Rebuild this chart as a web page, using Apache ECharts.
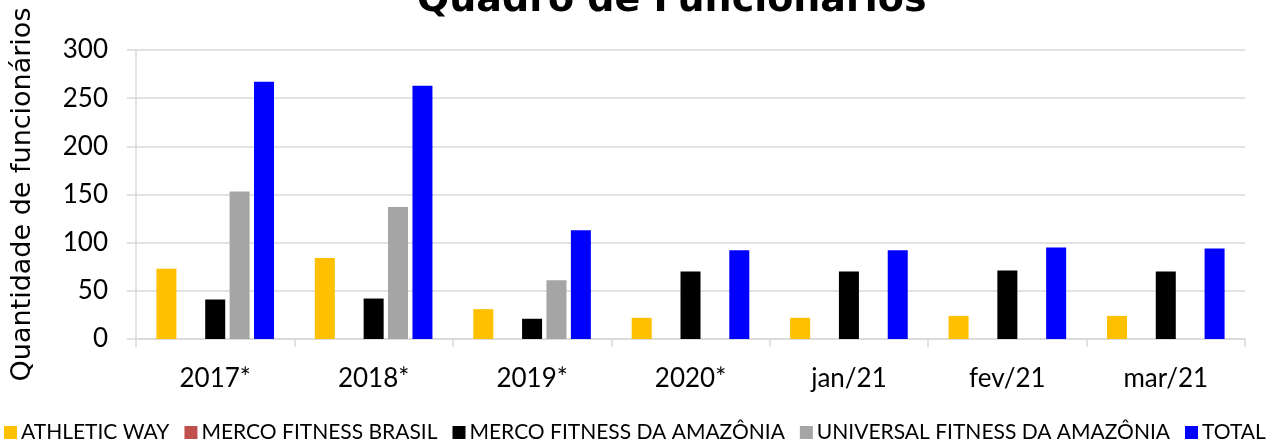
<!DOCTYPE html>
<html>
<head>
<meta charset="utf-8">
<script src="https://cdn.jsdelivr.net/npm/echarts@6/dist/echarts.min.js"></script>
<style>
  html, body { margin: 0; padding: 0; background: #fff; }
  #main { width: 1282px; height: 444px; }
</style>
</head>
<body>
<div id="main"></div>
<script>
const categories = ["2017*", "2018*", "2019*", "2020*", "jan/21", "fev/21", "mar/21"]
const athleticWay = [73, 84, 31, 22, 22, 24, 24]
const mercoBrasil = [0, 0, 0, 0, 0, 0, 0]
const mercoAmazonia = [41, 42, 21, 70, 70, 71, 70]
const universalAmazonia = [153, 137, 61, 0, 0, 0, 0]
const total = [267, 263, 113, 92, 92, 95, 94]

const seriesDefs = [
  { name: "ATHLETIC WAY", data: athleticWay, color: "#FFC000" },
  { name: "MERCO FITNESS BRASIL", data: mercoBrasil, color: "#C0504D" },
  { name: "MERCO FITNESS DA AMAZÔNIA", data: mercoAmazonia, color: "#000000" },
  { name: "UNIVERSAL FITNESS DA AMAZÔNIA", data: universalAmazonia, color: "#A5A5A5" },
  { name: "TOTAL", data: total, color: "#0000FF" },
]

const chart = echarts.init(document.getElementById("main"))
const gridColor = "#D9D9D9"

chart.setOption({
  animation: false,
  title: {
    text: "Quadro de Funcionários",
    left: 412,
    top: -23,
    textStyle: { fontFamily: "DejaVu Sans", fontWeight: "bold", fontSize: 38, color: "#000" },
  },
  legend: {
    left: 4,
    bottom: 1,
    width: 1278,
    padding: 0,
    itemWidth: 13,
    itemHeight: 13,
    itemGap: 15,
    icon: "rect",
    textStyle: { fontFamily: "Lato", fontSize: 21, color: "#000", padding: [0, 0, 0, -1] },
    data: seriesDefs.map((s) => s.name),
  },
  grid: { left: 136, right: 37, top: 50, bottom: 105 },
  xAxis: {
    type: "category",
    data: categories,
    axisLine: { lineStyle: { color: gridColor, width: 1.5 } },
    axisTick: { show: true, length: 8, lineStyle: { color: gridColor, width: 1.5 } },
    axisLabel: { margin: 27, fontFamily: "Lato", fontSize: 26, color: "#000" },
  },
  yAxis: {
    type: "value",
    min: 0,
    max: 300,
    interval: 50,
    name: "Quantidade de funcionários",
    nameLocation: "middle",
    nameGap: 100,
    nameTextStyle: { fontFamily: "DejaVu Sans", fontSize: 27, color: "#000" },
    axisLine: { show: true, lineStyle: { color: gridColor, width: 1.5 } },
    axisTick: { show: true, length: 9, lineStyle: { color: gridColor, width: 1.5 } },
    splitLine: { lineStyle: { color: gridColor, width: 1.5 } },
    axisLabel: { margin: 28, fontFamily: "Lato", fontSize: 26, color: "#000" },
  },
  series: seriesDefs.map((s) => ({
    name: s.name,
    type: "bar",
    data: s.data,
    barWidth: 20,
    barGap: "22%",
    itemStyle: { color: s.color },
  })),
})
</script>
</body>
</html>
